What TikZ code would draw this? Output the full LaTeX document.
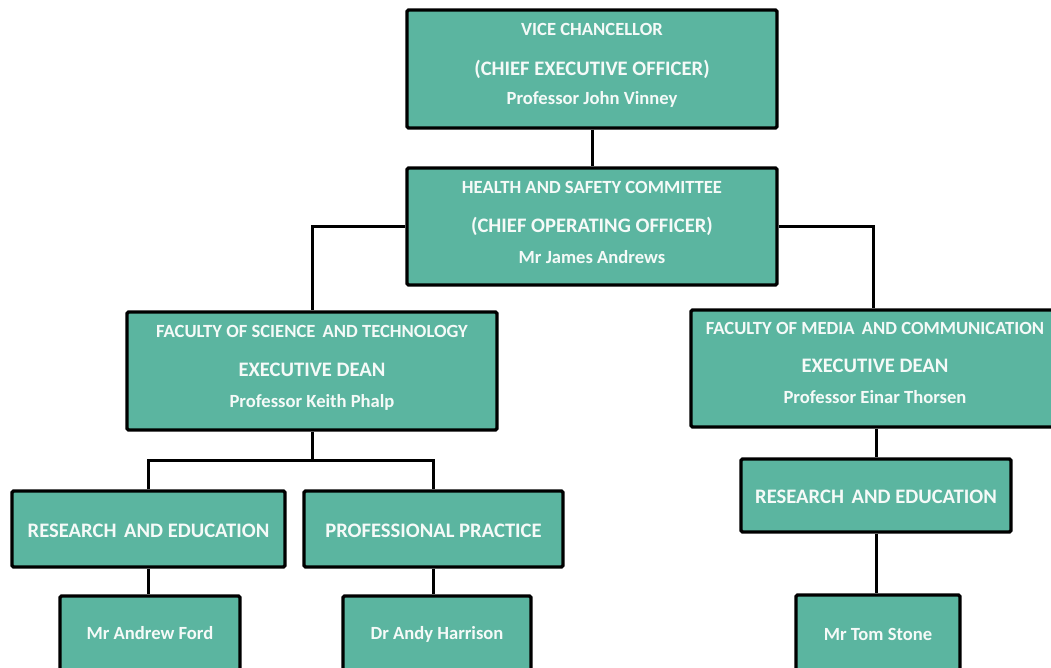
\documentclass[tikz,border=0pt]{standalone}
\usepackage{fontspec}
\setmainfont{Carlito}
\definecolor{teal}{RGB}{91,181,160}
\definecolor{txt}{RGB}{245,250,248}
\newcommand{\gapsp}{\ \hspace{3pt}}
\begin{document}
\begin{tikzpicture}[x=1pt,y=-1pt,
  box/.style={draw=black,fill=teal,line width=3.3pt,rounded corners=1.5pt,inner sep=0pt},
  lbl/.style={text=txt,font=\bfseries,anchor=base,inner sep=0pt},
  small/.style={lbl,font=\bfseries\fontsize{18.6}{21}\selectfont},
  big/.style={lbl,font=\bfseries\fontsize{20.6}{24}\selectfont},
  conn/.style={draw=black,line width=3pt}]
\useasboundingbox (0,0) rectangle (1051,668);
\fill[white] (0,0) rectangle (1051,668);
% boxes
\node[box,minimum width=370,minimum height=118] (vc) at (592,69) {};
\node[box,minimum width=370,minimum height=117] (hs) at (592,226.5) {};
\node[box,minimum width=370,minimum height=118] (fst) at (312,371) {};
\node[box,minimum width=364,minimum height=117] (fmc) at (873,368.5) {};
\node[box,minimum width=273,minimum height=76] (re1) at (148.5,529) {};
\node[box,minimum width=259,minimum height=76] (pp) at (433.5,529) {};
\node[box,minimum width=270,minimum height=73] (re2) at (876,495.5) {};
\node[box,minimum width=180,minimum height=110] (af) at (150,651) {};
\node[box,minimum width=188,minimum height=110] (ah) at (437,651) {};
\node[box,minimum width=164,minimum height=110] (ts) at (878,650) {};
% connectors
\coordinate (j1) at (312,460);
\draw[conn] (vc.south) -- (hs.north);
\draw[conn] (hs.west) -| (fst.north);
\draw[conn] (hs.east) -| (fmc.north);
\draw[conn] (fst.south) -- (j1);
\draw[conn] (re1.north) |- (j1) -| (pp.north);
\draw[conn] (re1.south) -- (af.north -| re1.south);
\draw[conn] (pp.south) -- (ah.north -| pp.south);
\draw[conn] (fmc.south -| re2.north) -- (re2.north);
\draw[conn] (re2.south) -- (ts.north -| re2.south);
% texts
\node[small] (t1) at (592,36) {VICE CHANCELLOR};
\node[big] (t2) at (592,76) {(CHIEF EXECUTIVE OFFICER)};
\node[small] (t3) at (592,105) {Professor John Vinney};
\node[small] (t4) at (592,194) {HEALTH AND SAFETY COMMITTEE};
\node[big] (t5) at (592,233) {(CHIEF OPERATING OFFICER)};
\node[small] (t6) at (592,263) {Mr James Andrews};
\node[small] (t7) at (312,337) {FACULTY OF SCIENCE\gapsp AND TECHNOLOGY};
\node[big] (t8) at (312,376) {EXECUTIVE DEAN};
\node[small] (t9) at (312,407) {Professor Keith Phalp};
\node[small] (t10) at (875,334) {FACULTY OF MEDIA\gapsp AND COMMUNICATION};
\node[big] (t11) at (875,372) {EXECUTIVE DEAN};
\node[small] (t12) at (875,403) {Professor Einar Thorsen};
\node[big] (t13) at (148.5,537) {RESEARCH\gapsp AND EDUCATION};
\node[big] (t14) at (433.5,537) {PROFESSIONAL PRACTICE};
\node[big] (t15) at (876,503) {RESEARCH\gapsp AND EDUCATION};
\node[small] (t16) at (150,639) {Mr Andrew Ford};
\node[small] (t17) at (437,639) {Dr Andy Harrison};
\node[small] (t18) at (878,640) {Mr Tom Stone};
\end{tikzpicture}
\end{document}
